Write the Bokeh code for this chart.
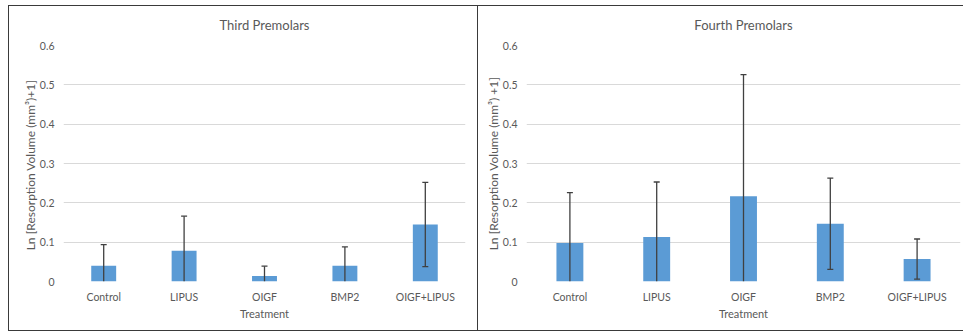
from bokeh.plotting import figure
from bokeh.layouts import row
from bokeh.models import Range1d, FixedTicker
from bokeh.embed import file_html
from bokeh.resources import INLINE

categories = ["Control", "LIPUS", "OIGF", "BMP2", "OIGF+LIPUS"]
third_means = [0.040, 0.078, 0.014, 0.040, 0.145]
third_errors = [0.054, 0.088, 0.025, 0.048, 0.107]
fourth_means = [0.098, 0.113, 0.217, 0.147, 0.057]
fourth_errors = [0.128, 0.140, 0.309, 0.116, 0.051]
y_ticks = [0, 0.1, 0.2, 0.3, 0.4, 0.5, 0.6]
y_tick_labels = ["0", "0.1", "0.2", "0.3", "0.4", "0.5", "0.6"]
titles = ["Third Premolars", "Fourth Premolars"]
x_label = "Treatment"
y_labels = ["Ln [Resorption Volume  (mm\u00b3)+1]", "Ln [Resorption Volume (mm\u00b3) +1]"]

FONT = "Lato"
TXT = "#595959"
BAR = "#5b9bd5"
ERR = "#404040"


def make_chart(title, means, errors, ylabel, width, height, mbl, mbr, styles, margin):
    p = figure(x_range=categories, y_range=Range1d(0, 0.6), width=width, height=height,
               output_backend="svg", toolbar_location=None,
               min_border_left=mbl, min_border_right=mbr, min_border_top=39, min_border_bottom=51)
    p.styles = styles
    p.margin = margin
    p.outline_line_color = None
    p.background_fill_color = "white"
    p.border_fill_color = "white"

    p.title.text = title
    p.title.align = "center"
    p.title.vertical_align = "top"
    p.title.offset = -21
    p.title.standoff = 21
    p.title.text_font = FONT
    p.title.text_font_size = "13px"
    p.title.text_font_style = "normal"
    p.title.text_color = TXT

    p.vbar(x=categories, top=means, width=0.31, color=BAR, line_color=None)

    upper = [m + e for m, e in zip(means, errors)]
    lower = [max(0.0, m - e) for m, e in zip(means, errors)]
    p.segment(x0=categories, y0=lower, x1=categories, y1=upper, line_color=ERR, line_width=1.3)
    p.scatter(x=categories, y=upper, marker="dash", size=6, line_color=ERR, line_width=1.3)
    low_cats = [c for c, m, e in zip(categories, means, errors) if m - e > 0]
    low_vals = [m - e for m, e in zip(means, errors) if m - e > 0]
    p.scatter(x=low_cats, y=low_vals, marker="dash", size=6, line_color=ERR, line_width=1.3)

    p.xgrid.grid_line_color = None
    p.ygrid.grid_line_color = "#d9d9d9"
    p.ygrid.grid_line_width = 1

    p.yaxis.ticker = FixedTicker(ticks=y_ticks)
    p.yaxis.major_label_overrides = {t: l for t, l in zip(y_ticks, y_tick_labels)}
    for ax in (p.xaxis[0], p.yaxis[0]):
        ax.axis_line_color = None
        ax.major_tick_line_color = None
        ax.minor_tick_line_color = None
        ax.major_tick_in = 0
        ax.major_tick_out = 0
        ax.major_label_text_font = FONT
        ax.major_label_text_font_size = "10.5px"
        ax.major_label_text_color = TXT
        ax.axis_label_text_font = FONT
        ax.axis_label_text_font_style = "normal"
        ax.axis_label_text_color = TXT
    p.yaxis.major_label_text_align = "right"
    p.xaxis.axis_label_text_font_size = "11px"
    p.yaxis.axis_label_text_font_size = "12px"
    p.yaxis.major_label_standoff = 9
    p.xaxis.major_label_standoff = 9
    p.yaxis.axis_label = ylabel
    p.yaxis.axis_label_standoff = -1
    p.xaxis.axis_label = x_label
    p.xaxis.axis_label_standoff = 1
    return p


p1 = make_chart(titles[0], third_means, third_errors, y_labels[0], 470, 326, 54, 14,
                {"border": "1px solid #3a3a3a"}, (5, 0, 0, 8))
p2 = make_chart(titles[1], fourth_means, fourth_errors, y_labels[1], 485, 326, 48, 3,
                {"border-top": "1px solid #3a3a3a", "border-bottom": "1px solid #3a3a3a"}, (5, 0, 0, 0))

layout = row(p1, p2)
open("out.html", "w").write(file_html(layout, INLINE))
